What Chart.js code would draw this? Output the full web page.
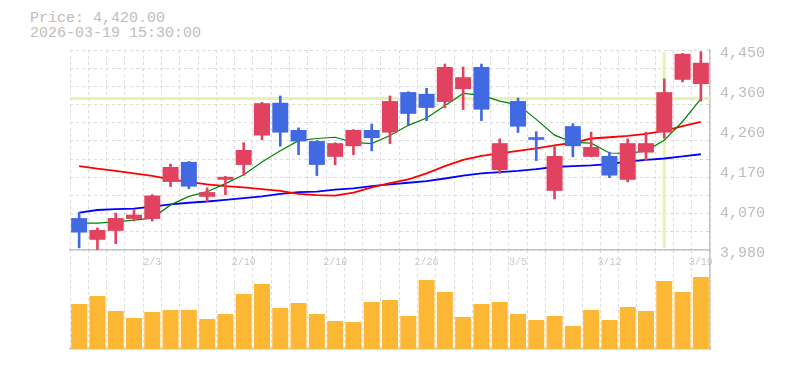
<!DOCTYPE html>
<html>
<head>
<meta charset="utf-8">
<script src="https://cdn.jsdelivr.net/npm/chart.js@4.4.1/dist/chart.umd.min.js"></script>
<style>
  html, body { margin: 0; padding: 0; background: #fff; }
  #wrap { position: relative; width: 785px; height: 370px; overflow: hidden; }
  #info { position: absolute; left: 30px; top: 11px; font: 15px/15px "Liberation Mono", monospace; color: #bdbdbd; white-space: pre; }
  #priceCanvas { position: absolute; left: 0; top: 0; z-index: 2; }
  #volumeCanvas { position: absolute; left: 0; top: 250px; z-index: 1; }
</style>
</head>
<body>
<div id="wrap">
  <div id="info">Price: 4,420.00<br>2026-03-19 15:30:00</div>
  <canvas id="volumeCanvas" width="785" height="102"></canvas>
  <canvas id="priceCanvas" width="785" height="270"></canvas>
</div>
<script>
// daily candles, 1/28 .. 3/19
const dates = ['1/28', '1/29', '1/30', '2/2', '2/3', '2/4', '2/5', '2/6', '2/9', '2/10',
    '2/12', '2/13', '2/16', '2/17', '2/18', '2/19', '2/20', '2/24', '2/25', '2/26',
    '2/27', '3/2', '3/3', '3/4', '3/5', '3/6', '3/9', '3/10', '3/11', '3/12',
    '3/13', '3/16', '3/17', '3/18', '3/19'];
const opens = [4055, 4004, 4025, 4053, 4053, 4140, 4187, 4105, 4145, 4180,
    4249, 4326, 4262, 4236, 4199, 4224, 4262, 4256, 4351, 4347,
    4328, 4358, 4410, 4168, 4330, 4245, 4119, 4271, 4199, 4201,
    4145, 4209, 4256, 4380, 4370];
const highs = [4068, 4032, 4067, 4076, 4110, 4182, 4188, 4126, 4153, 4232,
    4327, 4342, 4267, 4237, 4232, 4263, 4276, 4342, 4352, 4360,
    4417, 4410, 4417, 4241, 4337, 4258, 4223, 4277, 4257, 4210,
    4241, 4257, 4382, 4442, 4446];
const lows = [3985, 3981, 3995, 4048, 4048, 4129, 4124, 4094, 4110, 4156,
    4239, 4224, 4204, 4155, 4180, 4204, 4213, 4230, 4272, 4284,
    4314, 4310, 4284, 4160, 4256, 4190, 4100, 4199, 4199, 4150,
    4140, 4190, 4243, 4375, 4330];
const closes = [4021, 4027, 4055, 4063, 4108, 4175, 4129, 4116, 4152, 4215,
    4325, 4256, 4235, 4180, 4231, 4262, 4243, 4330, 4300, 4314,
    4410, 4386, 4310, 4231, 4270, 4239, 4201, 4224, 4222, 4155,
    4231, 4231, 4351, 4441, 4420];

// moving averages
const ma5 = [4043, 4043, 4046, 4050, 4055, 4086, 4106, 4117, 4136, 4157,
    4187, 4213, 4237, 4242, 4245, 4233, 4230, 4249, 4273, 4290,
    4319, 4348, 4344, 4330, 4321, 4287, 4250, 4233, 4231, 4208,
    4207, 4213, 4238, 4282, 4335];
const ma25 = [4177, 4171, 4166, 4160, 4154, 4146, 4140, 4134, 4130, 4127,
    4123, 4119, 4112, 4109, 4108, 4115, 4127, 4137, 4146, 4160,
    4177, 4192, 4201, 4207, 4213, 4219, 4226, 4232, 4242, 4245,
    4248, 4253, 4260, 4271, 4281];
const ma75 = [4068, 4074, 4076, 4077, 4082, 4087, 4091, 4094, 4098, 4102,
    4106, 4112, 4116, 4117, 4122, 4125, 4130, 4134, 4138, 4142,
    4148, 4155, 4160, 4163, 4166, 4170, 4175, 4177, 4179, 4182,
    4188, 4192, 4195, 4200, 4205];

// volume (thousand shares)
const volumes = [450, 530, 380, 310, 370, 390, 390, 300, 350, 550,
    650, 410, 460, 350, 280, 270, 470, 490, 330, 690,
    570, 320, 450, 470, 350, 290, 330, 230, 390, 290,
    420, 380, 680, 570, 720];

const yTickLabels = ['3,980', '4,070', '4,170', '4,260', '4,360', '4,450'];
const xTickLabels = ['2/3', '2/10', '2/18', '2/26', '3/5', '3/12', '3/19'];

// crosshair position
const crossDate = '3/17';
const crossPrice = 4336;

const UP = '#e1425f';
const DOWN = '#4169e1';
const gridColor = '#dcdcdc';
const axisColor = '#c4c4c4';
const textColor = '#bdbdbd';
const mono = "'Liberation Mono', monospace";

const candleColors = closes.map((c, i) => c >= opens[i] ? UP : DOWN);

const crosshair = {
    id: 'crosshair',
    beforeDatasetsDraw(chart) {
        const {ctx, chartArea, scales} = chart;
        const cx = scales.x.getPixelForValue(dates.indexOf(crossDate));
        const cy = scales.y.getPixelForValue(crossPrice);
        ctx.save();
        ctx.strokeStyle = '#e4f4b0';
        ctx.lineWidth = 3;
        ctx.beginPath();
        ctx.moveTo(chartArea.left, cy);
        ctx.lineTo(chartArea.right, cy);
        ctx.moveTo(cx, chartArea.top + 2);
        ctx.lineTo(cx, chartArea.bottom - 2);
        ctx.stroke();
        ctx.restore();
    }
};

new Chart(document.getElementById('priceCanvas'), {
    type: 'bar',
    data: {
        labels: dates,
        datasets: [
            {
                data: opens.map((o, i) => [o, closes[i]]),
                backgroundColor: candleColors,
                grouped: false,
                barPercentage: 0.875,
                categoryPercentage: 1,
                order: 0,
            },
            {
                data: lows.map((l, i) => [l, highs[i]]),
                backgroundColor: candleColors,
                grouped: false,
                barThickness: 2,
                order: 1,
            },
            { type: 'line', data: ma5, borderColor: '#008000', borderWidth: 1.2, pointRadius: 0, order: 2 },
            { type: 'line', data: ma25, borderColor: '#ff0000', borderWidth: 1.8, pointRadius: 0, order: 3 },
            { type: 'line', data: ma75, borderColor: '#0000ff', borderWidth: 1.8, pointRadius: 0, order: 4 },
        ],
    },
    options: {
        responsive: false,
        animation: false,
        events: [],
        layout: { padding: { left: 70, top: 50, right: 0, bottom: 0 } },
        plugins: { legend: { display: false }, tooltip: { enabled: false } },
        scales: {
            x: {
                offset: true,
                grid: { color: gridColor, offset: true, drawTicks: false },
                border: { display: true, color: axisColor, width: 1.5, dash: [3, 3] },
                ticks: {
                    autoSkip: false, maxRotation: 0, minRotation: 0, padding: 6,
                    color: '#c6c6c6', font: { family: mono, size: 10 },
                    callback: (v, i) => xTickLabels.includes(dates[i]) ? dates[i] : '',
                },
                afterFit: s => { s.height = 20; },
            },
            y: {
                position: 'right',
                min: 3980,
                max: 4450,
                grid: { display: false, drawTicks: false },
                border: { display: true, color: axisColor, width: 1.5 },
                ticks: {
                    count: 6, padding: 10, labelOffset: 3,
                    color: textColor, font: { family: mono, size: 15 },
                    callback: (v, i) => yTickLabels[i],
                },
                afterFit: s => { s.width = 75; },
            },
            yGrid: {
                position: 'left',
                min: 3980,
                max: 4450,
                grid: { color: gridColor, drawTicks: false },
                border: { display: false, dash: [3, 3] },
                ticks: { display: false, count: 12 },
                afterFit: s => { s.width = 0; },
            },
        },
    },
    plugins: [crosshair],
});

new Chart(document.getElementById('volumeCanvas'), {
    type: 'bar',
    data: {
        labels: dates,
        datasets: [{
            data: volumes,
            backgroundColor: '#fcb735',
            barPercentage: 0.875,
            categoryPercentage: 1,
        }],
    },
    options: {
        responsive: false,
        animation: false,
        events: [],
        layout: { padding: { left: 70, top: 0, right: 0, bottom: 3 } },
        plugins: { legend: { display: false }, tooltip: { enabled: false } },
        scales: {
            x: {
                offset: true,
                grid: { color: gridColor, offset: true, drawTicks: false },
                border: { display: true, color: axisColor, width: 1.5, dash: [3, 3] },
                ticks: { display: false },
                afterFit: s => { s.height = 0; },
            },
            y: {
                position: 'right',
                min: 0,
                max: 990,
                grid: { display: false, drawTicks: false },
                border: { display: true, color: axisColor, width: 1.5 },
                ticks: { display: false },
                afterFit: s => { s.width = 75; },
            },
        },
    },
});
</script>
</body>
</html>
